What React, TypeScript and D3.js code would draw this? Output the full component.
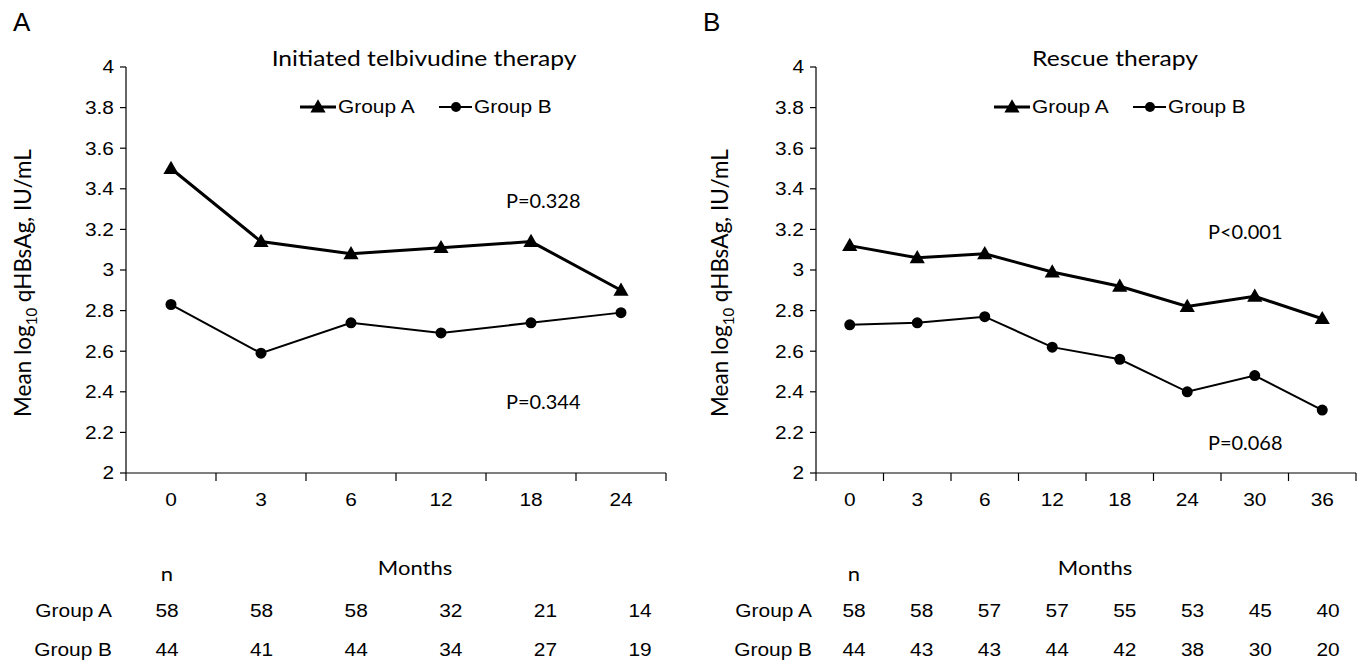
import React from 'react';
import * as d3 from 'd3';

// panel A: initiated telbivudine therapy
const monthsA = ['0', '3', '6', '12', '18', '24'];
const groupA_A = [3.5, 3.14, 3.08, 3.11, 3.14, 2.9];
const groupB_A = [2.83, 2.59, 2.74, 2.69, 2.74, 2.79];
const nGroupA_A = [58, 58, 58, 32, 21, 14];
const nGroupB_A = [44, 41, 44, 34, 27, 19];

// panel B: rescue therapy
const monthsB = ['0', '3', '6', '12', '18', '24', '30', '36'];
const groupA_B = [3.12, 3.06, 3.08, 2.99, 2.92, 2.82, 2.87, 2.76];
const groupB_B = [2.73, 2.74, 2.77, 2.62, 2.56, 2.4, 2.48, 2.31];
const nGroupA_B = [58, 58, 57, 57, 55, 53, 45, 40];
const nGroupB_B = [44, 43, 43, 44, 42, 38, 30, 20];

const yTicks = [2, 2.2, 2.4, 2.6, 2.8, 3, 3.2, 3.4, 3.6, 3.8, 4];

const sans = '"Liberation Sans", Arial, sans-serif';
const titleFont = 'Lato, "Open Sans", sans-serif';

const tri = d3.symbol().type(d3.symbolTriangle).size(100);

// text stretched sideways like the source figure
const T = ({ x, y, anchor = 'start', size = 18.5, sx = 1.13, font = sans, children }: any) => (
  <text transform={`translate(${x},${y}) scale(${sx},1)`} dy="0.35em" textAnchor={anchor} fontSize={size} fontFamily={font}>{children}</text>
);

function Panel({ letter, title, titleX, monthsX, months, a, b, nA, nB, left, right, tableX, rowLabelX, pTop, pBottom, legendX, yLabelX }: any) {
  const top = 67;
  const bottom = 473;
  const x = d3.scaleBand().domain(months).range([left, right]);
  const y = d3.scaleLinear().domain([2, 4]).range([bottom, top]);
  const tx = d3.scalePoint().domain(months).range(tableX);
  const cx = (i: number) => x(months[i])! + x.bandwidth() / 2;
  const line = d3.line<number>().x((d, i) => cx(i)).y(d => y(d));

  return (
    <g>
      <text x={left - 113} y={31} fontSize={26} fontFamily={sans}>{letter}</text>
      <T x={titleX} y={58} anchor="middle" size={22} sx={1.12} font={titleFont}>{title}</T>

      {/* y axis */}
      <line x1={left} x2={left} y1={top} y2={bottom} stroke="#000" strokeWidth={1.2} />
      {yTicks.map(t => (
        <g key={t}>
          <line x1={left - 6} x2={left} y1={y(t)} y2={y(t)} stroke="#000" strokeWidth={1.2} />
          <T x={left - 12} y={y(t)} anchor="end">{d3.format('')(t)}</T>
        </g>
      ))}
      <text transform={`translate(${yLabelX},283) rotate(-90)`} textAnchor="middle" fontSize={22.5} fontFamily={titleFont}>
        Mean log<tspan fontSize={15} dy={6}>10</tspan><tspan dy={-6}> qHBsAg, IU/mL</tspan>
      </text>

      {/* x axis */}
      <line x1={left} x2={right} y1={bottom} y2={bottom} stroke="#000" strokeWidth={1.2} />
      <line x1={left} x2={left} y1={bottom} y2={bottom + 8} stroke="#000" strokeWidth={1.2} />
      {months.map((m: string, i: number) => (
        <g key={m}>
          <line x1={x(m)! + x.bandwidth()} x2={x(m)! + x.bandwidth()} y1={bottom} y2={bottom + 8} stroke="#000" strokeWidth={1.2} />
          <T x={cx(i)} y={bottom + 27} anchor="middle">{m}</T>
        </g>
      ))}

      {/* series */}
      <path d={line(a)!} fill="none" stroke="#000" strokeWidth={3} />
      {a.map((v: number, i: number) => (
        <path key={i} d={tri()!} transform={`translate(${cx(i)},${y(v) + 1})`} fill="#000" />
      ))}
      <path d={line(b)!} fill="none" stroke="#000" strokeWidth={2} />
      {b.map((v: number, i: number) => (
        <circle key={i} cx={cx(i)} cy={y(v)} r={5.5} fill="#000" />
      ))}

      {/* legend */}
      <line x1={legendX} x2={legendX + 36} y1={107} y2={107} stroke="#000" strokeWidth={3} />
      <path d={tri()!} transform={`translate(${legendX + 18},${108})`} fill="#000" />
      <T x={legendX + 38} y={107}>Group A</T>
      <line x1={legendX + 139} x2={legendX + 172} y1={107} y2={107} stroke="#000" strokeWidth={2} />
      <circle cx={legendX + 156} cy={107} r={5} fill="#000" />
      <T x={legendX + 174} y={107}>Group B</T>

      {/* p values */}
      <T x={pTop[0]} y={pTop[1]} size={19} sx={1.05} font={titleFont}>{pTop[2]}</T>
      <T x={pBottom[0]} y={pBottom[1]} size={19} sx={1.05} font={titleFont}>{pBottom[2]}</T>

      {/* n table */}
      <T x={monthsX} y={568} anchor="middle" size={20} sx={1.1} font={titleFont}>Months</T>
      <T x={tableX[0]} y={574} anchor="middle" size={20} sx={1.1} font={titleFont}>n</T>
      <T x={rowLabelX} y={611} anchor="end">Group A</T>
      <T x={rowLabelX} y={650} anchor="end">Group B</T>
      {months.map((m: string, i: number) => (
        <g key={m}>
          <T x={tx(m)} y={611} anchor="middle">{nA[i]}</T>
          <T x={tx(m)} y={650} anchor="middle">{nB[i]}</T>
        </g>
      ))}
    </g>
  );
}

export default function App() {
  return (
    <svg width={1361} height={668} style={{ position: 'absolute', left: 0, top: 0, background: '#fff' }}>
      <rect width={1361} height={668} fill="#fff" />
      <Panel letter="A" title="Initiated telbivudine therapy" titleX={424} monthsX={415} months={monthsA} a={groupA_A} b={groupB_A}
        nA={nGroupA_A} nB={nGroupB_A} left={126} right={666} tableX={[167, 640]} rowLabelX={112}
        pTop={[506, 201, 'P=0.328']} pBottom={[506, 402, 'P=0.344']} legendX={300} yLabelX={31} />
      <Panel letter="B" title="Rescue therapy" titleX={1115} monthsX={1095} months={monthsB} a={groupA_B} b={groupB_B}
        nA={nGroupA_B} nB={nGroupB_B} left={816} right={1356} tableX={[854, 1328]} rowLabelX={812}
        pTop={[1208, 232, 'P<0.001']} pBottom={[1208, 443, 'P=0.068']} legendX={994} yLabelX={728} />
    </svg>
  );
}
